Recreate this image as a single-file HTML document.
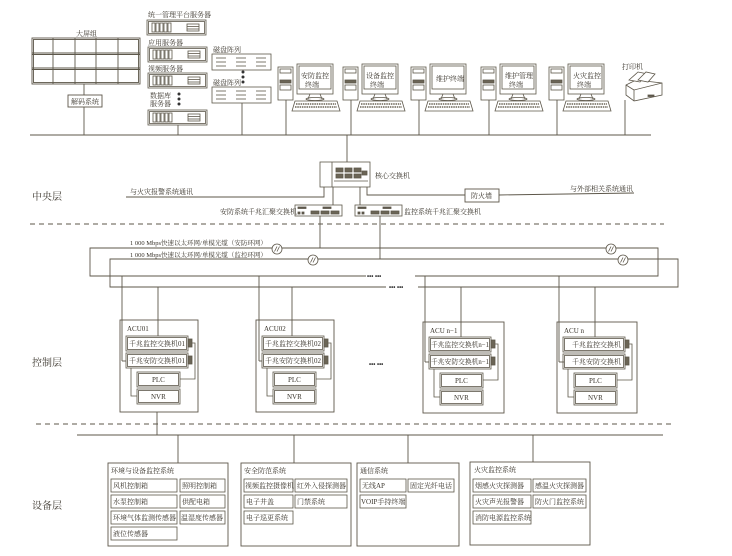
<!DOCTYPE html>
<html><head><meta charset="utf-8"><style>
html,body{margin:0;padding:0;background:#fff;}
svg{display:block;}
text{font-family:"Liberation Serif","Noto Serif CJK SC","Noto Sans CJK SC",serif;fill:#3a352c;}
.s{font-size:7px;}
.m{font-size:8px;}
.l{font-size:10px;}
</style></head><body>
<svg width="732" height="556" viewBox="0 0 732 556" xmlns="http://www.w3.org/2000/svg">
<defs>
<g id="srv" fill="none" stroke="#5d574a" stroke-width="0.8">
<rect x="0" y="0" width="59" height="15"/>
<rect x="1.5" y="1.5" width="56" height="12"/>
<rect x="5" y="3" width="3" height="9"/><rect x="9" y="3" width="3" height="9"/><rect x="13" y="3" width="3" height="9"/><rect x="17" y="3" width="3" height="9"/><rect x="21" y="3" width="3" height="9"/>
<rect x="40" y="4" width="12" height="7"/><line x1="40" y1="6.5" x2="52" y2="6.5"/><line x1="40" y1="9" x2="52" y2="9"/>
</g>
<g id="disk" fill="none" stroke="#5d574a" stroke-width="0.8">
<rect x="0" y="0" width="59" height="16"/>
<g><line x1="4" y1="4" x2="14" y2="4"/><line x1="4" y1="8" x2="14" y2="8"/><line x1="4" y1="12" x2="14" y2="12"/>
<line x1="24" y1="4" x2="34" y2="4"/><line x1="24" y1="8" x2="34" y2="8"/><line x1="24" y1="12" x2="34" y2="12"/>
<line x1="44" y1="4" x2="54" y2="4"/><line x1="44" y1="8" x2="54" y2="8"/><line x1="44" y1="12" x2="54" y2="12"/></g>
</g>
<g id="pc" stroke="#5d574a" stroke-width="0.8" fill="#fff">
<rect x="0" y="3" width="15" height="33"/>
<rect x="2" y="5" width="11" height="4" fill="none"/>
<rect x="2" y="16" width="11" height="3" fill="#6b6556"/>
<rect x="2" y="21" width="11" height="5" fill="none"/>
<rect x="19" y="0" width="36" height="30"/>
<rect x="21" y="2" width="32" height="23" fill="none"/>
<line x1="32" y1="30" x2="30" y2="35"/><line x1="42" y1="30" x2="44" y2="35"/>
<ellipse cx="37" cy="35" rx="9" ry="1.5" fill="none"/>
<polygon points="17,37 59,37 62,47 14,47" fill="#fff"/>
<g stroke="#6b6556" stroke-width="1.6" stroke-dasharray="1.5 0.8"><line x1="18" y1="40" x2="58" y2="40"/><line x1="17" y1="43" x2="59" y2="43"/></g>
</g>
<g id="sw" stroke="#5d574a" stroke-width="0.8" fill="#fff">
<rect x="0" y="0" width="47" height="11"/>
<rect x="3" y="2" width="8" height="1.5" fill="#5d574a"/><rect x="28" y="2" width="8" height="1.5" fill="#5d574a"/>
<rect x="16" y="6" width="8" height="3" fill="#6b6556"/><rect x="26" y="6" width="8" height="3" fill="#6b6556"/><rect x="36" y="6" width="8" height="3" fill="#6b6556"/>
<rect x="3" y="7" width="2" height="2" fill="#5d574a"/><rect x="7" y="7" width="2" height="2" fill="#5d574a"/>
</g>
<g id="fib" fill="#fff" stroke="#5d574a" stroke-width="0.8">
<circle cx="0" cy="0" r="5"/><line x1="-2.5" y1="2.5" x2="0" y2="-2.5"/><line x1="0" y1="2.5" x2="2.5" y2="-2.5"/>
</g>
</defs>

<g stroke="#5d574a" stroke-width="0.9" fill="none">
<rect x="32" y="38" width="108" height="46"/>
<line x1="32" y1="53" x2="140" y2="53"/><line x1="32" y1="54.5" x2="140" y2="54.5"/>
<line x1="32" y1="68" x2="140" y2="68"/><line x1="32" y1="69.5" x2="140" y2="69.5"/>
<line x1="53" y1="38" x2="53" y2="84"/><line x1="75" y1="38" x2="75" y2="84"/><line x1="96" y1="38" x2="96" y2="84"/><line x1="118" y1="38" x2="118" y2="84"/>
<rect x="33.5" y="39.5" width="105" height="43"/>
<line x1="84" y1="84" x2="84" y2="95"/>
<rect x="68" y="95" width="34" height="12"/>
<line x1="84" y1="107" x2="84" y2="135"/>
<line x1="30" y1="135" x2="651" y2="135" stroke-width="1.1"/>
<line x1="178" y1="125" x2="178" y2="135"/>
<line x1="242" y1="103" x2="242" y2="135"/>
<line x1="286" y1="100" x2="286" y2="135"/>
<line x1="351" y1="100" x2="351" y2="135"/>
<line x1="419" y1="100" x2="419" y2="135"/>
<line x1="489" y1="100" x2="489" y2="135"/>
<line x1="557" y1="100" x2="557" y2="135"/>
<line x1="625" y1="100" x2="625" y2="135"/>
<line x1="347" y1="135" x2="347" y2="163"/>
</g>
<use href="#srv" x="147" y="20"/>
<use href="#srv" x="148" y="47"/>
<use href="#srv" x="148" y="73"/>
<use href="#srv" x="148" y="110"/>
<use href="#disk" x="212" y="54"/>
<use href="#disk" x="212" y="87"/>
<g fill="#333"><circle cx="179" cy="94" r="1.5"/><circle cx="179" cy="99" r="1.5"/><circle cx="179" cy="104" r="1.5"/>
<circle cx="243" cy="72" r="1.5"/><circle cx="243" cy="77" r="1.5"/><circle cx="243" cy="82" r="1.5"/></g>
<use href="#pc" x="278" y="64"/>
<use href="#pc" x="343" y="64"/>
<use href="#pc" x="411" y="64"/>
<use href="#pc" x="481" y="64"/>
<use href="#pc" x="549" y="64"/>
<g stroke="#5d574a" stroke-width="0.8" fill="#fff">
<polygon points="626,85 636,80 662,83 662,95 634,101 626,95"/>
<line x1="626" y1="85" x2="634" y2="90"/><line x1="634" y1="90" x2="662" y2="83"/><line x1="634" y1="90" x2="634" y2="101"/>
<polygon points="629,80 638,72 648,74 640,82"/><polygon points="638,80 646,72 655,74 648,82"/>
<rect x="648" y="95" width="6" height="1.5" fill="#5d574a"/>
</g>

<g stroke="#5d574a" stroke-width="0.8" fill="#fff">
<rect x="320" y="162" width="50" height="25"/>
<line x1="332" y1="162" x2="332" y2="187"/>
<g fill="#6b6556"><rect x="336" y="168" width="7" height="4"/><rect x="345" y="168" width="7" height="4"/><rect x="354" y="168" width="7" height="4"/><rect x="336" y="174" width="7" height="4"/><rect x="345" y="174" width="7" height="4"/><rect x="354" y="174" width="7" height="4"/><rect x="362" y="171" width="5" height="4"/></g>
<line x1="334" y1="181" x2="368" y2="181"/>
</g>
<use href="#sw" x="295" y="205"/>
<use href="#sw" x="355" y="205"/>
<g stroke="#5d574a" stroke-width="0.9" fill="none">
<polyline points="324,187 324,197 126,197"/>
<line x1="333" y1="187" x2="333" y2="205"/>
<line x1="360" y1="187" x2="360" y2="205"/>
<polyline points="367,187 367,195 465,195"/>
<rect x="465" y="189" width="34" height="13"/>
<line x1="499" y1="195" x2="634" y2="193"/>
<line x1="30" y1="224" x2="664" y2="224" stroke-dasharray="5 4"/>
<line x1="320" y1="216" x2="320" y2="248"/>
<line x1="380" y1="216" x2="380" y2="259"/>
<polyline points="366,276 90,276 90,248 658,248 658,276 415,276"/>
<polyline points="386,287 110,287 110,259 678,259 678,287 418,287"/>
<rect x="120" y="320" width="78" height="92"/>
<rect x="256" y="320" width="78" height="92"/>
<rect x="423" y="322" width="81" height="91"/>
<rect x="557" y="322" width="80" height="91"/>
<line x1="122" y1="276" x2="122" y2="361"/><line x1="122" y1="361" x2="126" y2="361"/>
<line x1="158" y1="287" x2="158" y2="336"/>
<line x1="259" y1="276" x2="259" y2="361"/><line x1="259" y1="361" x2="262" y2="361"/>
<line x1="292" y1="287" x2="292" y2="336"/>
<line x1="425" y1="276" x2="425" y2="362"/><line x1="425" y1="362" x2="429" y2="362"/>
<line x1="461" y1="287" x2="461" y2="337"/>
<line x1="559" y1="276" x2="559" y2="362"/><line x1="559" y1="362" x2="564" y2="362"/>
<line x1="595" y1="287" x2="595" y2="337"/>
<line x1="36" y1="424" x2="672" y2="424" stroke-dasharray="5 4"/>
<line x1="157" y1="412" x2="157" y2="435"/>
<line x1="77" y1="435" x2="663" y2="435" stroke-width="1.1"/>
<line x1="178" y1="435" x2="178" y2="463"/>
<line x1="294" y1="435" x2="294" y2="463"/>
<line x1="408" y1="435" x2="408" y2="463"/>
<line x1="533" y1="435" x2="533" y2="462"/>
<rect x="108" y="463" width="120" height="83"/>
<rect x="241" y="463" width="110" height="83"/>
<rect x="357" y="463" width="102" height="83"/>
<rect x="470" y="462" width="120" height="83"/>
</g>
<text x="367" y="278" style="font-family:'Liberation Sans';font-weight:bold;font-size:6px;fill:#333">••• •••</text>
<text x="389" y="289" style="font-family:'Liberation Sans';font-weight:bold;font-size:6px;fill:#333">••• •••</text>
<text x="369" y="366" style="font-family:'Liberation Sans';font-weight:bold;font-size:6px;fill:#333">••• •••</text>
<use href="#fib" x="277" y="249"/>
<use href="#fib" x="313" y="260"/>
<use href="#fib" x="611" y="249"/>
<use href="#fib" x="623" y="260"/>

<g stroke="#5d574a" stroke-width="0.8" fill="none">
<g id="acu">
<rect x="126" y="336" width="62" height="15"/><rect x="127.5" y="337.5" width="59" height="12"/>
<rect x="126" y="353" width="62" height="15"/><rect x="127.5" y="354.5" width="59" height="12"/>
<rect x="188" y="339" width="4" height="8" fill="#6b6556"/><rect x="188" y="356" width="4" height="8" fill="#6b6556"/>
<rect x="137" y="372" width="43" height="15"/><rect x="138.5" y="373.5" width="40" height="12"/>
<rect x="137" y="389" width="43" height="15"/><rect x="138.5" y="390.5" width="40" height="12"/>
<polyline points="192,343 195,343 195,379 180,379"/>
<polyline points="131,368 131,396 137,396"/>
</g>
<use href="#acu" x="136" y="0"/>
<use href="#acu" x="303" y="1"/>
<use href="#acu" x="437" y="1"/>
<rect x="111" y="479" width="66" height="13"/><rect x="180" y="479" width="45" height="13"/>
<rect x="111" y="495" width="66" height="13"/><rect x="180" y="495" width="45" height="13"/>
<rect x="111" y="511" width="66" height="13"/><rect x="180" y="511" width="45" height="13"/>
<rect x="111" y="527" width="66" height="13"/>
<rect x="244" y="479" width="49" height="13"/><rect x="295" y="479" width="52" height="13"/>
<rect x="244" y="495" width="49" height="13"/><rect x="295" y="495" width="52" height="13"/>
<rect x="244" y="511" width="49" height="13"/>
<rect x="360" y="479" width="46" height="13"/><rect x="408" y="479" width="46" height="13"/>
<rect x="360" y="495" width="46" height="13"/>
<rect x="473" y="479" width="58" height="13"/><rect x="533" y="479" width="53" height="13"/>
<rect x="473" y="495" width="58" height="13"/><rect x="533" y="495" width="53" height="13"/>
<rect x="473" y="511" width="58" height="13"/>
</g>

<text class="s" x="76" y="36">大屏组</text>
<text class="s" x="71" y="104">解码系统</text>
<text class="s" x="148" y="17">统一管理平台服务器</text>
<text class="s" x="148" y="45">应用服务器</text>
<text class="s" x="148" y="71">视频服务器</text>
<text class="s" x="150" y="98">数据库</text>
<text class="s" x="150" y="106">服务器</text>
<text class="s" x="213" y="52">磁盘阵列</text>
<text class="s" x="213" y="85">磁盘阵列</text>
<text class="s" x="301" y="78">安防监控</text><text class="s" x="305" y="87">终端</text>
<text class="s" x="366" y="78">设备监控</text><text class="s" x="370" y="87">终端</text>
<text class="s" x="436" y="81">维护终端</text>
<text class="s" x="505" y="78">维护管理</text><text class="s" x="509" y="87">终端</text>
<text class="s" x="573" y="78">火灾监控</text><text class="s" x="577" y="87">终端</text>
<text class="s" x="622" y="69">打印机</text>
<text class="s" x="375" y="178">核心交换机</text>
<text class="s" x="130" y="194">与火灾报警系统通讯</text>
<text class="s" x="570" y="191">与外部相关系统通讯</text>
<text class="s" x="471" y="198">防火墙</text>
<text class="s" x="220" y="214">安防系统千兆汇聚交换机</text>
<text class="s" x="404" y="214">监控系统千兆汇聚交换机</text>
<text class="l" x="32" y="200">中央层</text>
<text class="l" x="32" y="366">控制层</text>
<text class="l" x="32" y="509">设备层</text>
<text x="130" y="245" style="font-size:6.5px">1 000 Mbps快速以太环网/单模光缆（安防环网）</text>
<text x="130" y="257" style="font-size:6.5px">1 000 Mbps快速以太环网/单模光缆（监控环网）</text>

<text class="s" x="127" y="331">ACU01</text>
<text class="s" x="129" y="346">千兆监控交换机01</text>
<text class="s" x="129" y="363">千兆安防交换机01</text>
<text class="s" x="152" y="382">PLC</text>
<text class="s" x="151" y="399">NVR</text>
<text class="s" x="264" y="331">ACU02</text>
<text class="s" x="265" y="346">千兆监控交换机02</text>
<text class="s" x="265" y="363">千兆安防交换机02</text>
<text class="s" x="288" y="382">PLC</text>
<text class="s" x="287" y="399">NVR</text>
<text class="s" x="430" y="333">ACU n−1</text>
<text class="s" x="431" y="347" textLength="58" lengthAdjust="spacingAndGlyphs">千兆监控交换机n−1</text>
<text class="s" x="431" y="364" textLength="58" lengthAdjust="spacingAndGlyphs">千兆安防交换机n−1</text>
<text class="s" x="455" y="383">PLC</text>
<text class="s" x="454" y="400">NVR</text>
<text class="s" x="564" y="333">ACU n</text>
<text class="s" x="572" y="347">千兆监控交换机</text>
<text class="s" x="572" y="364">千兆安防交换机</text>
<text class="s" x="589" y="383">PLC</text>
<text class="s" x="588" y="400">NVR</text>

<text class="s" x="111" y="473">环境与设备监控系统</text>
<text class="s" x="113" y="488">风机控制箱</text><text class="s" x="182" y="488">照明控制箱</text>
<text class="s" x="113" y="504">水泵控制箱</text><text class="s" x="182" y="504">供配电箱</text>
<text class="s" x="113" y="520">环境气体监测传感器</text><text class="s" x="181" y="520">温湿度传感器</text>
<text class="s" x="113" y="536">液位传感器</text>
<text class="s" x="244" y="473">安全防范系统</text>
<text class="s" x="245" y="488">视频监控摄像机</text><text class="s" x="297" y="488">红外入侵探测器</text>
<text class="s" x="246" y="504">电子井盖</text><text class="s" x="297" y="504">门禁系统</text>
<text class="s" x="246" y="520">电子巡更系统</text>
<text class="s" x="360" y="473">通信系统</text>
<text class="s" x="362" y="488">无线AP</text><text class="s" x="410" y="488">固定光纤电话</text>
<text class="s" x="361" y="504">VOIP手持终端</text>
<text class="s" x="474" y="472">火灾监控系统</text>
<text class="s" x="475" y="488">烟感火灾探测器</text><text class="s" x="535" y="488">感温火灾探测器</text>
<text class="s" x="475" y="504">火灾声光报警器</text><text class="s" x="535" y="504">防火门监控系统</text>
<text class="s" x="475" y="520">消防电源监控系统</text>
</svg>
</body></html>
